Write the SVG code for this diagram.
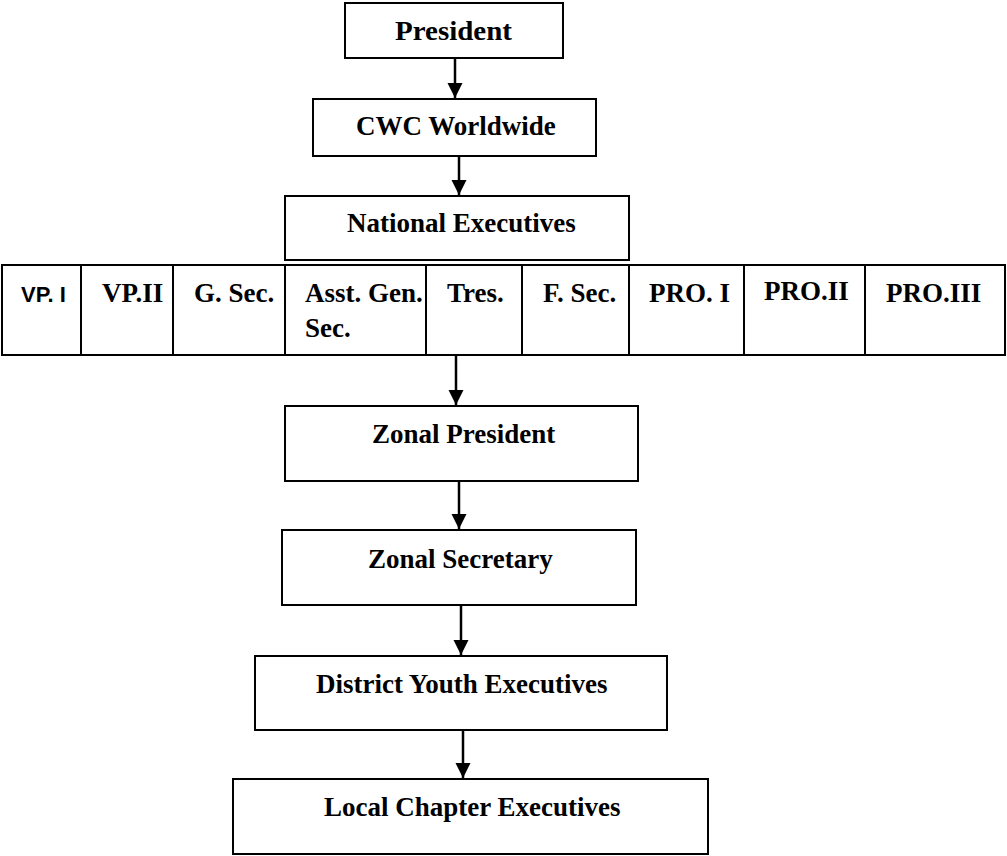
<svg xmlns="http://www.w3.org/2000/svg" width="1007" height="856" viewBox="0 0 1007 856">
<style>
.box{fill:#fff;stroke:#000;stroke-width:2}
.div{stroke:#000;stroke-width:2}
.t{font-family:"Liberation Serif","Times New Roman",serif;font-weight:bold;font-size:27px;fill:#000}
.s{font-family:"Liberation Sans",Arial,sans-serif;font-weight:bold;font-size:22px;fill:#000}
.c{stroke:#000;stroke-width:2.5;fill:none}
</style>
<defs>
<marker id="ah" markerUnits="userSpaceOnUse" markerWidth="16" markerHeight="16" viewBox="0 0 16 16" refX="15" refY="8" orient="auto">
<path d="M0,0.5 L15,8 L0,15.5 Z" fill="#000"/>
</marker>
</defs>
<rect width="1007" height="856" fill="#fff"/>
<g id="connectors">
<line class="c" x1="455" y1="58" x2="455" y2="98" marker-end="url(#ah)"/>
<line class="c" x1="459" y1="156" x2="459" y2="195" marker-end="url(#ah)"/>
<line class="c" x1="456" y1="355" x2="456" y2="405" marker-end="url(#ah)"/>
<line class="c" x1="459" y1="481" x2="459" y2="529" marker-end="url(#ah)"/>
<line class="c" x1="461" y1="605" x2="461" y2="655" marker-end="url(#ah)"/>
<line class="c" x1="463" y1="728" x2="463" y2="778" marker-end="url(#ah)"/>
</g>
<g id="president">
<rect class="box" x="345" y="3" width="218" height="55"/>
<text class="t" x="395" y="40" textLength="117" lengthAdjust="spacingAndGlyphs">President</text>
</g>
<g id="cwc">
<rect class="box" x="313" y="99" width="283" height="57"/>
<text class="t" x="356" y="135">CWC Worldwide</text>
</g>
<g id="national">
<rect class="box" x="285" y="196" width="344" height="64"/>
<text class="t" x="347" y="232">National Executives</text>
</g>
<g id="officers">
<rect class="box" x="2" y="265" width="1003" height="90"/>
<line class="div" x1="81" y1="265" x2="81" y2="355"/>
<line class="div" x1="173" y1="265" x2="173" y2="355"/>
<line class="div" x1="285" y1="265" x2="285" y2="355"/>
<line class="div" x1="426" y1="265" x2="426" y2="355"/>
<line class="div" x1="522" y1="265" x2="522" y2="355"/>
<line class="div" x1="629" y1="265" x2="629" y2="355"/>
<line class="div" x1="744" y1="265" x2="744" y2="355"/>
<line class="div" x1="865" y1="265" x2="865" y2="355"/>
<text class="s" x="21" y="302">VP. I</text>
<text class="t" x="102" y="302">VP.II</text>
<text class="t" x="194" y="302">G. Sec.</text>
<text class="t" x="305" y="302">Asst. Gen.</text>
<text class="t" x="305" y="337">Sec.</text>
<text class="t" x="447" y="302">Tres.</text>
<text class="t" x="543" y="302">F. Sec.</text>
<text class="t" x="649" y="302">PRO. I</text>
<text class="t" x="764" y="300">PRO.II</text>
<text class="t" x="886" y="302">PRO.III</text>
</g>
<g id="zonal-president">
<rect class="box" x="285" y="406" width="353" height="75"/>
<text class="t" x="372" y="443">Zonal President</text>
</g>
<g id="zonal-secretary">
<rect class="box" x="282" y="530" width="354" height="75"/>
<text class="t" x="368" y="568">Zonal Secretary</text>
</g>
<g id="district">
<rect class="box" x="255" y="656" width="412" height="74"/>
<text class="t" x="316" y="693">District Youth Executives</text>
</g>
<g id="local">
<rect class="box" x="233" y="779" width="475" height="75"/>
<text class="t" x="324" y="816">Local Chapter Executives</text>
</g>
</svg>
